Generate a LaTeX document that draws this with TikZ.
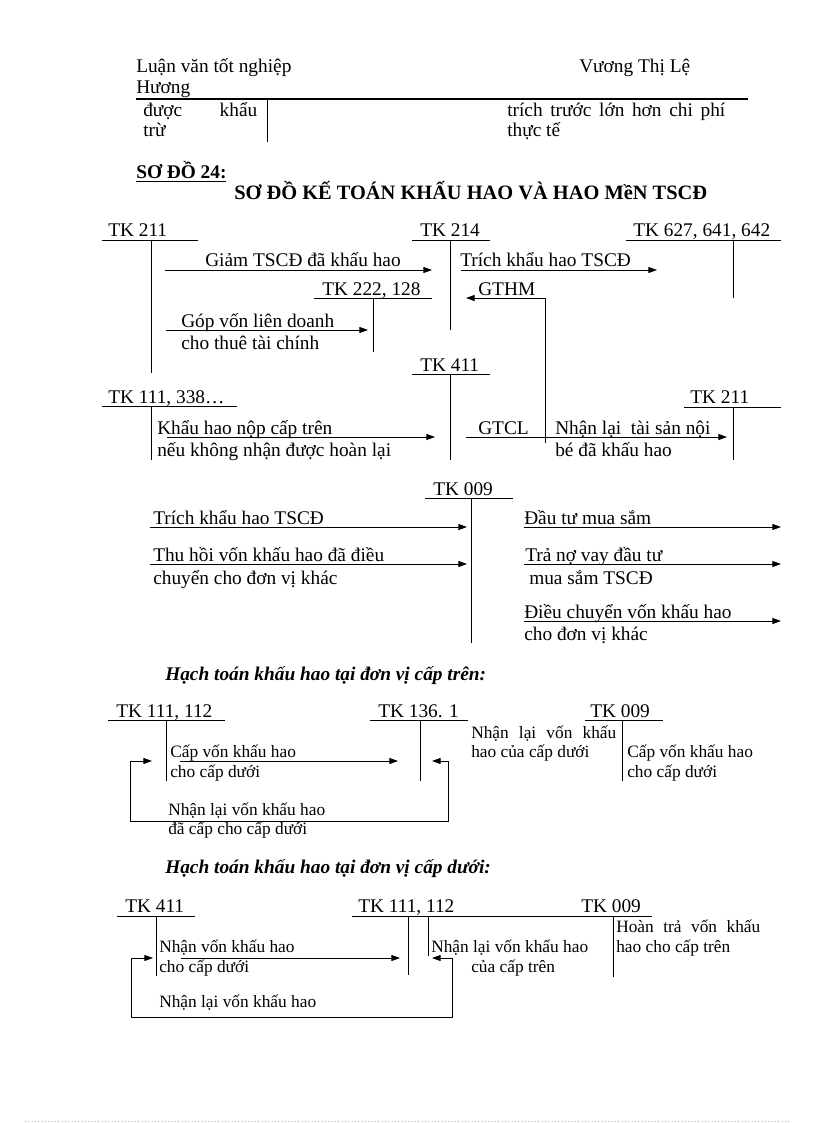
\documentclass[tikz,border=0pt]{standalone}
\usepackage{fontspec}
\setmainfont{Liberation Serif}
\usetikzlibrary{arrows.meta}
\newcommand\fsA{\fontsize{14.5pt}{16pt}\selectfont}
\newcommand\fsB{\fontsize{13pt}{15pt}\selectfont}
\newcommand\fsT{\fontsize{15.3pt}{17pt}\selectfont}
\begin{document}
\begin{tikzpicture}[x=0.75pt,y=-0.75pt,
  t/.style={inner sep=0pt, anchor=base west, font=\fsA},
  s/.style={inner sep=0pt, anchor=base west, font=\fsB},
  ln/.style={line width=0.7pt},
  arr/.style={line width=0.7pt, -{Triangle[length=6.5pt,width=4.5pt]}},
  darr/.style={line width=0.7pt, {Triangle[length=6.5pt,width=4.5pt]}-{Triangle[length=6.5pt,width=4.5pt]}},
]
\useasboundingbox[fill=white] (0,0) rectangle (816,1123);

% ---------- header ----------
\node[t] (h1) at (136,73) {Luận văn tốt nghiệp};
\node[t] (h2) at (136,94) {Hương};
\node[t] (h3) at (579,73) {Vương Thị Lệ};
\draw[line width=1.5pt] (136,99) -- (748,99);
\node[t] (p1) at (143,117) {\makebox[85.5pt][s]{được khẩu}};
\node[t] (p2) at (143,137) {trừ};
\draw[ln] (267,99) -- (267,142);
\node[t] (p3) at (507,117) {\makebox[163.5pt][s]{trích trước lớn hơn chi phí}};
\node[t] (p4) at (507,137) {thực tế};
\node[t] (sd) at (136,179) {\underline{\textbf{SƠ ĐỒ 24:}}};
\node[t, font=\fsT] (title) at (234,200) {\textbf{SƠ ĐỒ KẾ TOÁN KHẤU HAO VÀ HAO MềN TSCĐ}};

% ---------- diagram 1 ----------
% TK 211
\node[t] (a211) at (108,237) {TK 211};
\draw[ln] (102,240) -- (198,240);
\draw[ln] (151,240) -- (151,373);
% TK 214
\node[t] (a214) at (420,237) {TK 214};
\draw[ln] (412,240) -- (490,240);
\draw[ln] (450,240) -- (450,330);
% TK 627
\node[t] (a627) at (633,237) {TK 627, 641, 642};
\draw[ln] (626,240) -- (781,240);
\draw[ln] (733,240) -- (733,298);
% TK 222
\node[t] (a222) at (322,295) {TK 222, 128};
\draw[ln] (314,298) -- (432,298);
\draw[ln] (373,298) -- (373,352);
% TK 411
\node[t] (a411) at (420,371) {TK 411};
\draw[ln] (412,374) -- (490,374);
\draw[ln] (450,374) -- (450,460);
% TK 111, 338
\node[t] (a111) at (108,403) {TK 111, 338…};
\draw[ln] (102,406) -- (237,406);
\draw[ln] (151,406) -- (151,460);
% TK 211 right
\node[t] (b211) at (690,403) {TK 211};
\draw[ln] (684,407) -- (781,407);
\draw[ln] (733,407) -- (733,460);

\node[t] (m1) at (205,267) {Giảm TSCĐ đã khấu hao};
\draw[arr] (165,270) -- (432,270);
\node[t] (m2) at (460,267) {Trích khẩu hao TSCĐ};
\draw[arr] (461,270) -- (657,270);
\node[t] (m3) at (478,295) {GTHM};
\draw[arr] (545,443) -- (545,298) -- (466,298);
\node[t] (m4) at (181,327) {Góp vốn liên doanh};
\node[t] (m4b) at (181,349) {cho thuê tài chính};
\draw[arr] (166,330) -- (368,330);
\node[t] (m5) at (157,434) {Khẩu hao nộp cấp trên};
\node[t] (m5b) at (157,456) {nếu không nhận được hoàn lại};
\draw[arr] (167,437) -- (435,437);
\node[t] (m6) at (478,434) {GTCL};
\node[t] (m7) at (555,434) {Nhận lại \ tài sản nội};
\node[t] (m7b) at (555,456) {bé đã khấu hao};
\draw[arr] (466,437) -- (727,437);

% ---------- TK 009 ----------
\node[t] (a009) at (433,495) {TK 009};
\draw[ln] (425,498) -- (513,498);
\draw[ln] (471,498) -- (471,643);
\node[t] (n1) at (153,524) {Trích khẩu hao TSCĐ};
\draw[arr] (150,527) -- (467,527);
\node[t] (n2) at (153,561) {Thu hồi vốn khấu hao đã điều};
\node[t] (n2b) at (153,584) {chuyển cho đơn vị khác};
\draw[arr] (150,564) -- (467,564);
\node[t] (n3) at (524,524) {Đầu tư mua sắm};
\draw[arr] (524,527) -- (781,527);
\node[t] (n4) at (525,561) {Trả nợ vay đầu tư};
\node[t] (n4b) at (529,584) {mua sắm TSCĐ};
\draw[arr] (524,564) -- (781,564);
\node[t] (n5) at (524,618) {Điều chuyển vốn khấu hao};
\node[t] (n5b) at (524,640) {cho đơn vị khác};
\draw[arr] (524,621) -- (781,621);

% ---------- diagram 2 ----------
\node[t] (hd2) at (165,680) {\textbf{\textit{Hạch toán khấu hao tại đơn vị cấp trên:}}};
\node[t] (c111) at (116,717) {TK 111, 112};
\draw[ln] (108,720) -- (225,720);
\draw[ln] (166,720) -- (166,781);
\node[t] (c136) at (378,717) {TK 136. 1};
\draw[ln] (370,720) -- (468,720);
\draw[ln] (420,720) -- (420,781);
\node[t] (c009) at (590,717) {TK 009};
\draw[ln] (585,720) -- (663,720);
\draw[ln] (622,720) -- (622,781);
\node[s] (q1) at (170,757) {Cấp vốn khấu hao};
\node[s] (q1b) at (170,777) {cho cấp dưới};
\draw[arr] (180,761) -- (398,761);
\node[s] (q2) at (471,738) {\makebox[108.75pt][s]{Nhận lại vốn khấu}};
\node[s] (q2b) at (471,757) {hao của cấp dưới};
\node[s] (q3) at (627,757) {Cấp vốn khấu hao};
\node[s] (q3b) at (627,777) {cho cấp dưới};
\draw[darr] (432,761) -- (448,761) -- (448,821) -- (130,821) -- (130,761) -- (152,761);
\node[s] (q4) at (168,815) {Nhận lại vốn khấu hao};
\node[s] (q4b) at (168,834) {đã cấp cho cấp dưới};

% ---------- diagram 3 ----------
\node[t] (hd3) at (165,873) {\textbf{\textit{Hạch toán khấu hao tại đơn vị cấp dưới:}}};
\node[t] (d411) at (125,912) {TK 411};
\draw[ln] (117,916) -- (195,916);
\draw[ln] (156,916) -- (156,976);
\node[t] (d111) at (358,912) {TK 111, 112};
\node[t] (d009) at (581,912) {TK 009};
\draw[ln] (352,916) -- (652,916);
\draw[ln] (408,916) -- (408,975);
\draw[ln] (428,916) -- (428,956);
\draw[ln] (613,916) -- (613,977);
\node[s] (r1) at (159,952) {Nhận vốn khấu hao};
\node[s] (r1b) at (159,972) {cho cấp dưới};
\draw[arr] (181,958) -- (400,958);
\node[s] (r2) at (431,952) {Nhận lại vốn khấu hao};
\node[s] (r2b) at (471,972) {của cấp trên};
\node[s] (r3) at (616,932) {\makebox[108pt][s]{Hoàn trả vốn khấu}};
\node[s] (r3b) at (616,952) {hao cho cấp trên};
\draw[darr] (432,958) -- (452,958) -- (452,1017) -- (131,1017) -- (131,958) -- (153,958);
\node[s] (r4) at (159,1007) {Nhận lại vốn khấu hao};

% bottom dotted rule
\draw[gray!60, line width=0.5pt, dotted] (25,1121) -- (790,1121);
\end{tikzpicture}
\end{document}
